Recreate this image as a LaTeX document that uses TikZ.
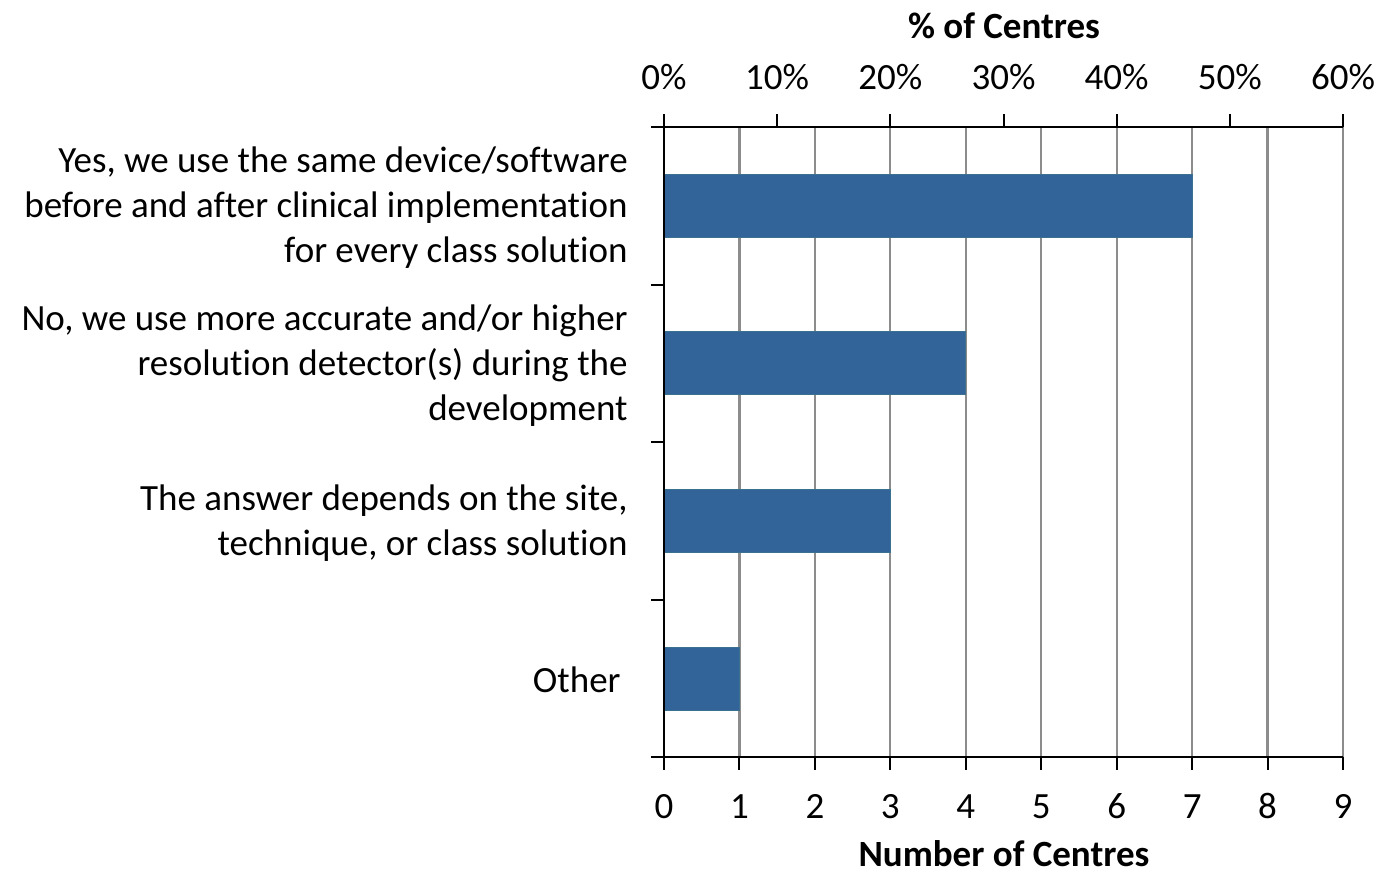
\documentclass[tikz,border=0pt]{standalone}
\usepackage{fontspec}
\setmainfont[Ligatures=NoCommon]{Carlito}
\definecolor{barblue}{HTML}{336499}
\definecolor{baredge}{HTML}{3A7090}
\definecolor{gridgray}{HTML}{8C8C8C}
\begin{document}
\begin{tikzpicture}[x=0.5pt,y=-0.5pt,
  lbl/.style={font=\fontsize{18.5}{22.5}\selectfont, inner sep=0pt},
  ttl/.style={font=\fontsize{18.5}{22.5}\selectfont\bfseries, inner sep=0pt},
  bar/.style={fill=barblue, draw=baredge, line width=0.4pt},
  gridline/.style={draw=gridgray, line width=1.1pt},
  axisline/.style={draw=black, line width=1pt}]
\useasboundingbox (0,0) rectangle (1380,872);
\def\ux{75.444}
% grid lines
\foreach \i in {1,...,9}
  \draw[gridline] ({664+\i*\ux},127) -- ({664+\i*\ux},757);
% bars
\draw[bar] (664,174) rectangle ({664+7*\ux},237);
\draw[bar] (664,331) rectangle ({664+4*\ux},394);
\draw[bar] (664,489) rectangle ({664+3*\ux},552);
\draw[bar] (664,647) rectangle ({664+1*\ux},710);
% axes
\draw[axisline] (664,127) -- (1343,127);
\draw[axisline] (664,757) -- (1343,757);
\draw[axisline] (664,127) -- (664,757);
% left ticks
\foreach \y in {127,284.5,442,599.5,757}
  \draw[axisline] (651,\y) -- (664,\y);
% bottom ticks and labels
\foreach \i in {0,...,9}{
  \draw[axisline] ({664+\i*\ux},757) -- ({664+\i*\ux},770);
  \node[lbl, anchor=base] (b\i) at ({664+\i*\ux},818) {\i};
}
% top ticks and labels
\foreach \p [count=\k from 0] in {0,10,20,30,40,50,60}{
  \draw[axisline] ({664+\k*1.5*\ux},127) -- ({664+\k*1.5*\ux},114);
  \node[lbl, anchor=base] (t\k) at ({664+\k*1.5*\ux},90) {\p\%};
}
% titles
\node[ttl, anchor=base] (toptitle) at (1004,39) {\% of Centres};
\node[ttl, anchor=base] (bottitle) at (1004,866) {Number of Centres};
% category labels
\node[lbl, align=right, anchor=east] (c1) at (628,208)
  {Yes, we use the same device/software\\before and after clinical implementation\\for every class solution};
\node[lbl, align=right, anchor=east] (c2) at (628,365.5)
  {No, we use more accurate and/or higher\\resolution detector(s) during the\\development};
\node[lbl, align=right, anchor=east] (c3) at (628,523)
  {The answer depends on the site,\\technique, or class solution};
\node[lbl, align=right, anchor=east] (c4) at (621,680)
  {Other};
\end{tikzpicture}
\end{document}
